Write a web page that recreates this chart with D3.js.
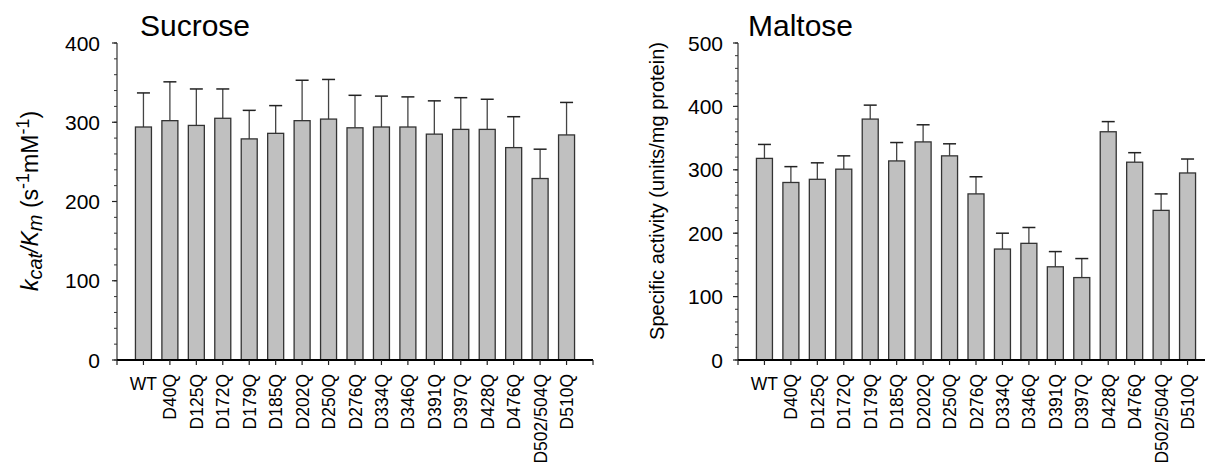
<!DOCTYPE html>
<meta charset="utf-8">
<html>
<head>
    <title>Sucrose / Maltose</title>
</head>
<style type="text/css">
    body{ margin:0; background:#fff; }
    text{ font-family: "Liberation Sans", Arial, Helvetica, sans-serif; fill:#000; }
</style>
<script src="https://cdn.jsdelivr.net/npm/d3@7"></script>
<body>
<script type="text/javascript">
var categories = ["WT","D40Q","D125Q","D172Q","D179Q","D185Q","D202Q","D250Q","D276Q","D334Q","D346Q","D391Q","D397Q","D428Q","D476Q","D502/504Q","D510Q"]

// sucrose kcat/Km and upper error end
var sucrose = [294, 302, 296, 305, 279, 286, 302, 304, 293, 294, 294, 285, 291, 291, 268, 229, 284]
var sucroseErr = [337, 351, 342, 342, 315, 321, 353, 354, 334, 333, 332, 327, 331, 329, 307, 266, 325]

// maltose specific activity and upper error end
var maltose = [318, 280, 285, 301, 380, 314, 344, 322, 262, 175, 184, 147, 130, 360, 312, 236, 295]
var maltoseErr = [340, 305, 311, 322, 402, 343, 371, 341, 289, 200, 209, 171, 160, 376, 327, 262, 317]

var sucroseTicks = [0, 100, 200, 300, 400]
var maltoseTicks = [0, 100, 200, 300, 400, 500]

var svg = d3.select("body").append("svg")
    .attr("width", 1205)
    .attr("height", 468)

function panel(opts){
    var g = svg.append("g")
    var x = d3.scaleLinear().domain([0, categories.length + 1]).range([opts.left, opts.right])
    var y = d3.scaleLinear().domain([0, opts.max]).range([360, 43])
    var barW = 16

    // minor ticks every 20
    var minor = d3.range(0, opts.max + 1, 20)
    g.selectAll("line.minor")
        .data(minor).enter()
        .append("line")
        .attr("x1", opts.left - 3).attr("x2", opts.left)
        .attr("y1", d=>y(d)).attr("y2", d=>y(d))
        .style("stroke", "#333").style("stroke-width", 1)

    g.selectAll("line.major")
        .data(opts.ticks).enter()
        .append("line")
        .attr("x1", opts.left - 5).attr("x2", opts.left)
        .attr("y1", d=>y(d)).attr("y2", d=>y(d))
        .style("stroke", "#222").style("stroke-width", 1.2)

    g.selectAll("text.ytick")
        .data(opts.ticks).enter()
        .append("text")
        .attr("x", opts.tickX)
        .attr("y", d=>y(d))
        .attr("dy", "0.36em")
        .attr("text-anchor", "end")
        .style("font-size", "21px")
        .text(d=>d)

    // y axis line
    g.append("line")
        .attr("x1", opts.left).attr("x2", opts.left)
        .attr("y1", y(opts.max)).attr("y2", y(0))
        .style("stroke", "#333").style("stroke-width", 1.2)

    // bars
    var data = categories.map((c,i)=>({c:c, i:i+1, v:opts.values[i], e:opts.err[i]}))
    g.selectAll("line.err")
        .data(data).enter()
        .append("line")
        .attr("x1", d=>x(d.i)).attr("x2", d=>x(d.i))
        .attr("y1", d=>y(d.v)).attr("y2", d=>y(d.e))
        .style("stroke", "#444").style("stroke-width", 1.3)
    g.selectAll("line.cap")
        .data(data).enter()
        .append("line")
        .attr("x1", d=>x(d.i) - 6.5).attr("x2", d=>x(d.i) + 6.5)
        .attr("y1", d=>y(d.e)).attr("y2", d=>y(d.e))
        .style("stroke", "#222").style("stroke-width", 1.5)
    g.selectAll("rect.bar")
        .data(data).enter()
        .append("rect")
        .attr("x", d=>x(d.i) - barW/2)
        .attr("y", d=>y(d.v))
        .attr("width", barW)
        .attr("height", d=>y(0) - y(d.v))
        .style("fill", "#c0c0c0")
        .style("stroke", "#333")
        .style("stroke-width", 1.3)

    // x axis
    g.append("line")
        .attr("x1", opts.left).attr("x2", opts.right)
        .attr("y1", y(0)).attr("y2", y(0))
        .style("stroke", "#000").style("stroke-width", 2)
    g.selectAll("line.xtick")
        .data(d3.range(0, categories.length + 2)).enter()
        .append("line")
        .attr("x1", d=>x(d)).attr("x2", d=>x(d))
        .attr("y1", y(0)).attr("y2", y(0) + 5)
        .style("stroke", "#222").style("stroke-width", 1.2)

    // category labels, WT stays horizontal
    g.append("text")
        .attr("x", x(1))
        .attr("y", 390)
        .attr("text-anchor", "middle")
        .style("font-size", "17.5px")
        .text(categories[0])
    g.selectAll("text.cat")
        .data(data.slice(1)).enter()
        .append("text")
        .attr("transform", d=>"translate(" + (x(d.i) + 6.5) + ",374) rotate(-90)")
        .attr("text-anchor", "end")
        .style("font-size", "17.5px")
        .text(d=>d.c)

    // title
    g.append("text")
        .attr("x", opts.titleX)
        .attr("y", 36)
        .style("font-size", "30px")
        .text(opts.title)
    return g
}

var left = panel({left:117, right:593, max:400, ticks:sucroseTicks, values:sucrose, err:sucroseErr,
    tickX:100, title:"Sucrose", titleX:140})
var right = panel({left:738, right:1214, max:500, ticks:maltoseTicks, values:maltose, err:maltoseErr,
    tickX:723, title:"Maltose", titleX:748})

// y axis titles
var yl = left.append("text")
    .attr("transform", "translate(38,201) rotate(-90)")
    .attr("text-anchor", "middle")
    .style("font-size", "23px")
yl.append("tspan").style("font-style", "italic").text("k")
yl.append("tspan").style("font-style", "italic").style("font-size", "20px").attr("dy", 4).text("cat")
yl.append("tspan").style("font-style", "italic").attr("dy", -4).text("/K")
yl.append("tspan").style("font-style", "italic").style("font-size", "20px").attr("dy", 4).text("m")
yl.append("tspan").attr("dy", -4).text(" (s")
yl.append("tspan").style("font-size", "18px").attr("dy", -9).text("-1")
yl.append("tspan").attr("dy", 9).text("mM")
yl.append("tspan").style("font-size", "18px").attr("dy", -9).text("-1")
yl.append("tspan").attr("dy", 9).text(")")

right.append("text")
    .attr("transform", "translate(664,191) rotate(-90)")
    .attr("text-anchor", "middle")
    .style("font-size", "20px")
    .text("Specific activity (units/mg protein)")
</script>
</body>
</html>
